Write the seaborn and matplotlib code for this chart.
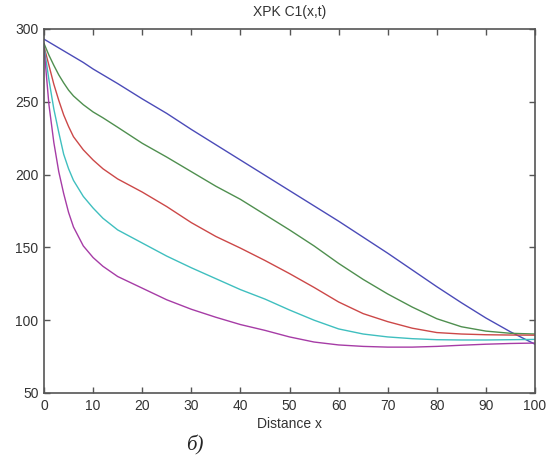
import pandas as pd
import matplotlib
matplotlib.use("Agg")
import matplotlib.pyplot as plt
import seaborn as sns

# данные
x = [0, 1, 2, 3, 4, 5, 6, 8, 10, 12, 15, 20, 25, 30, 35, 40, 45, 50,
     55, 60, 65, 70, 75, 80, 85, 90, 95, 100]

c_blue = [293, 291, 289, 287, 285, 283, 281, 277, 272.5, 268.5, 262.5, 252, 242, 231,
          220.5, 210, 199.5, 189, 178.5, 168, 157, 146, 134.5, 123, 112, 101.5, 92, 83.5]
c_green = [290, 282, 275, 268.5, 263, 258, 254, 248, 243, 239, 232.5, 221.5, 212, 202,
           192, 183, 172.5, 162, 151, 139, 128, 118, 109, 101, 95.5, 92.5, 91, 90.5]
c_red = [288, 275, 262, 251, 241, 233, 226, 217, 210, 204, 197, 188, 178, 167,
         157.5, 149.5, 141, 132, 122.5, 112.5, 104.5, 99, 94.5, 91.5, 90.5, 90, 89.8, 89.7]
c_cyan = [288, 265, 245, 229, 214, 204, 196, 185, 177, 170, 162, 153, 144, 136,
          128.5, 121, 114.5, 107, 100, 94, 90.5, 88.5, 87.3, 86.6, 86.4, 86.4, 86.6, 86.8]
c_magenta = [287, 248, 222, 202, 187, 174, 164, 151, 143, 137, 130, 122, 114, 107.5,
             102, 97, 93, 88.5, 85, 83, 82, 81.5, 81.5, 82, 82.8, 83.5, 84, 84.3]

series = {"1": c_blue, "2": c_green, "3": c_red, "4": c_cyan, "5": c_magenta}
colors = ["#4b4bb8", "#4f8f4f", "#cc4848", "#3fbfbf", "#a63ca6"]

df = pd.concat([pd.DataFrame({"x": x, "c": v, "t": k}) for k, v in series.items()])

sns.set_style("white")
plt.rcParams["font.family"] = ["Liberation Sans", "DejaVu Sans"]

fig = plt.figure(figsize=(5.58, 4.72), dpi=100)
ax = fig.add_axes([0.0789, 0.1674, 0.8799, 0.7712])

sns.lineplot(data=df, x="x", y="c", hue="t", palette=colors, linewidth=1.0,
             legend=False, ax=ax)

ax.set_xlim(0, 100)
ax.set_ylim(50, 300)
ax.set_xticks(range(0, 101, 10))
ax.set_yticks(range(50, 301, 50))

gray = "#555555"
for s in ax.spines.values():
    s.set_visible(True)
    s.set_color(gray)
    s.set_linewidth(1.2)
ax.tick_params(direction="in", length=4, width=1, colors=gray, labelcolor="#333333",
               labelsize=10, top=True, right=True, bottom=True, left=True, pad=4)

ax.set_title("XPK C1(x,t)", fontsize=10, color="#333333", pad=9)
ax.set_xlabel("Distance x", fontsize=10, color="#333333", labelpad=3)
ax.set_ylabel("")

fig.text(0.349, 0.057, "б)", fontsize=15, style="italic",
         family=["Liberation Serif", "DejaVu Serif"], ha="center", va="center")

fig.savefig("out.png", dpi=100)
